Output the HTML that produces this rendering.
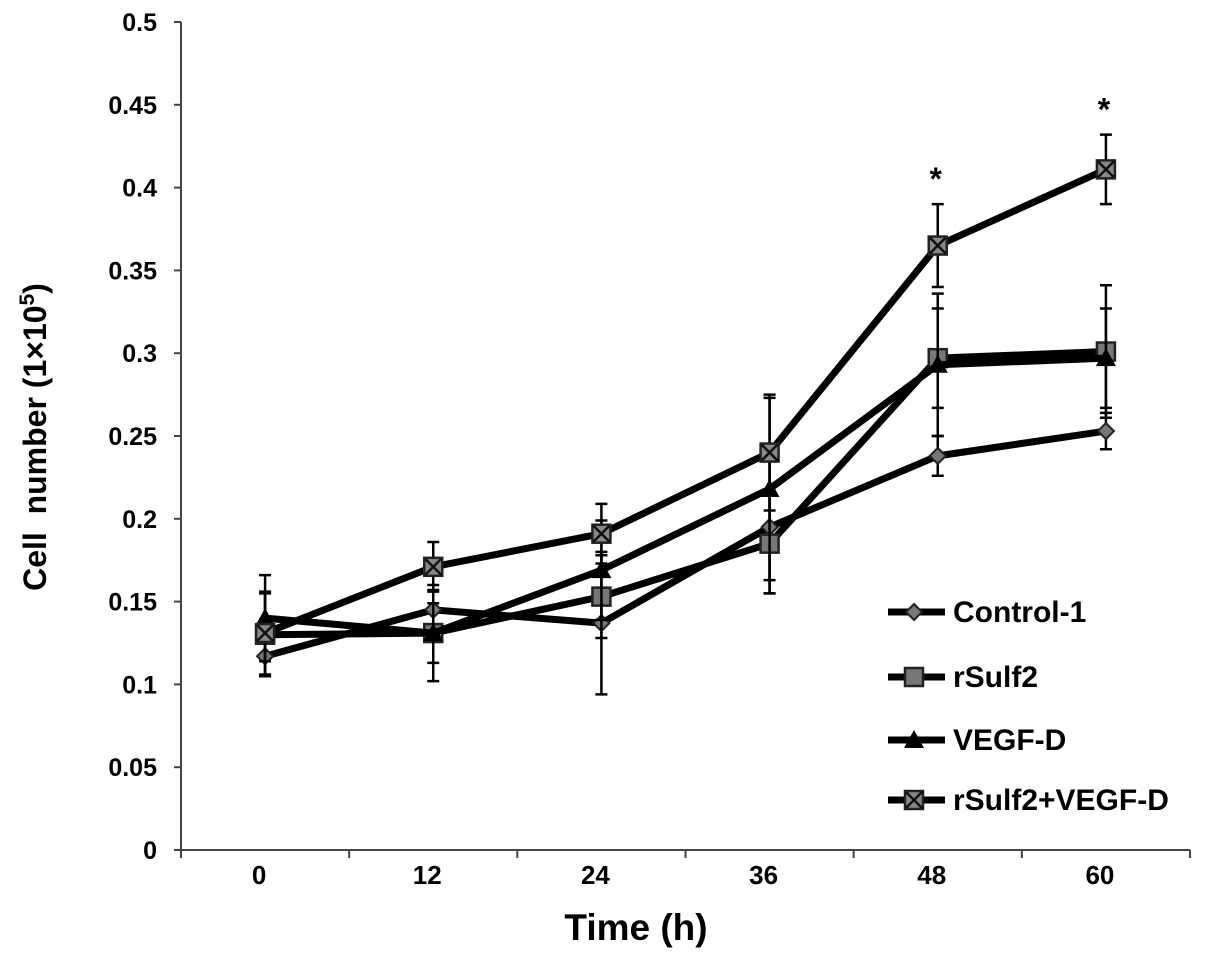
<!DOCTYPE html>
<html><head><meta charset="utf-8"><style>
body{margin:0;background:#fff}
svg text{font-family:"Liberation Sans",Arial,sans-serif;font-weight:bold;fill:#000}
</style></head><body>
<svg id="chart" width="1205" height="959" viewBox="0 0 1205 959" xmlns="http://www.w3.org/2000/svg">
<g id="axes"></g><g id="series"></g><g id="legend"></g>
</svg>
<script>
const categories=["0","12","24","36","48","60"];
const yTicks=[0,0.05,0.1,0.15,0.2,0.25,0.3,0.35,0.4,0.45,0.5];
const yTickLabels=["0","0.05","0.1","0.15","0.2","0.25","0.3","0.35","0.4","0.45","0.5"];
const seriesNames=["Control-1","rSulf2","VEGF-D","rSulf2+VEGF-D"];
const control=[0.117,0.145,0.137,0.195,0.238,0.253];
const controlErr=[0.012,0.012,0.043,0.04,0.012,0.011];
const rsulf2=[0.130,0.131,0.153,0.185,0.297,0.301];
const rsulf2Err=[0.025,0.018,0.025,0.03,0.03,0.04];
const vegfd=[0.140,0.131,0.169,0.218,0.293,0.297];
const vegfdErr=[0.026,0.029,0.03,0.055,0.043,0.03];
const combo=[0.131,0.171,0.191,0.240,0.365,0.411];
const comboErr=[0.025,0.015,0.018,0.035,0.025,0.021];
const sig=["","","","","*","*"];

const NS="http://www.w3.org/2000/svg";
const X0=181,X1=1190,Y0=850,Y1=22;
const band=(X1-X0)/categories.length;
const xs=i=>X0+band*(i+0.5);
const ys=v=>Y0-(v/0.5)*(Y0-Y1);
function mk(tag,attrs,parent){const e=document.createElementNS(NS,tag);for(const k in attrs)e.setAttribute(k,attrs[k]);parent.appendChild(e);return e;}
const axes=document.getElementById('axes'),ser=document.getElementById('series'),leg=document.getElementById('legend');

let ya=mk('line',{x1:X0,y1:Y1,x2:X0,y2:Y0,stroke:'#444','stroke-width':2},axes);

let xa=mk('line',{x1:X0,y1:Y0,x2:X1,y2:Y0,stroke:'#444','stroke-width':2},axes);

yTicks.forEach((v,i)=>{
  mk('line',{x1:X0-7,y1:ys(v),x2:X0,y2:ys(v),stroke:'#444','stroke-width':2},axes);
  const t=mk('text',{x:157,y:ys(v)+9,'text-anchor':'end','font-size':25},axes);t.textContent=yTickLabels[i];
  
});
for(let i=0;i<=categories.length;i++){mk('line',{x1:X0+band*i,y1:Y0,x2:X0+band*i,y2:Y0+8,stroke:'#444','stroke-width':2},axes);}
categories.forEach((c,i)=>{const t=mk('text',{x:xs(i)-6,y:884,'text-anchor':'middle','font-size':26},axes);t.textContent=c;
  });
let xt=mk('text',{x:636,y:940,'text-anchor':'middle','font-size':37},axes);xt.textContent='Time (h)';

let yt=mk('text',{x:0,y:0,'text-anchor':'middle','font-size':32,transform:'translate(46,437) rotate(-90)'},axes);
yt.innerHTML='Cell&#160;&#160;number (1×10<tspan dy="-12" font-size="21">5</tspan><tspan dy="12">)</tspan>';


function marker(type,x,y,g){
  if(type==='diamond')mk('polygon',{points:`${x},${y-8} ${x+8},${y} ${x},${y+8} ${x-8},${y}`,fill:'#777',stroke:'#222','stroke-width':2},g);
  else if(type==='square')mk('rect',{x:x-9,y:y-9,width:18,height:18,fill:'#777',stroke:'#222','stroke-width':2.5},g);
  else if(type==='triangle')mk('polygon',{points:`${x},${y-10} ${x+10},${y+8} ${x-10},${y+8}`,fill:'#000'},g);
  else {mk('rect',{x:x-9,y:y-9,width:18,height:18,fill:'#888',stroke:'#222','stroke-width':2.5},g);
    mk('path',{d:`M${x-8} ${y-8}L${x+8} ${y+8}M${x+8} ${y-8}L${x-8} ${y+8}`,stroke:'#111','stroke-width':2.5},g);}
}
const allSeries=[[control,controlErr,'diamond','control-1'],[rsulf2,rsulf2Err,'square','rsulf2'],[vegfd,vegfdErr,'triangle','vegf-d'],[combo,comboErr,'xsquare','rsulf2-vegf-d']];
allSeries.forEach(([vals,errs,m,n])=>{
  const g=mk('g',{},ser);
  vals.forEach((v,i)=>{const x=xs(i);
    mk('path',{d:`M${x} ${ys(v-errs[i])}V${ys(v+errs[i])}M${x-6} ${ys(v-errs[i])}h12M${x-6} ${ys(v+errs[i])}h12`,stroke:'#000','stroke-width':2.5,fill:'none'},g);});
  const p=mk('polyline',{points:vals.map((v,i)=>xs(i)+','+ys(v)).join(' '),fill:'none',stroke:'#000','stroke-width':7,'stroke-linejoin':'round'},g);
  
  vals.forEach((v,i)=>marker(m,xs(i),ys(v),g));
});
sig.forEach((s,i)=>{if(!s)return;const t=mk('text',{x:xs(i)-2,y:ys(combo[i]+comboErr[i])-14,'text-anchor':'middle','font-size':32},ser);t.textContent=s;
  });
const legY=[612,677,740,800];
allSeries.forEach(([v,e,m,n],k)=>{
  const g=mk('g',{},leg);
  mk('line',{x1:888,y1:legY[k],x2:945,y2:legY[k],stroke:'#000','stroke-width':7},g);
  marker(m,914,legY[k],g);
  const t=mk('text',{x:953,y:legY[k]+10,'font-size':30},g);t.textContent=seriesNames[k];
});
</script>
</body></html>
